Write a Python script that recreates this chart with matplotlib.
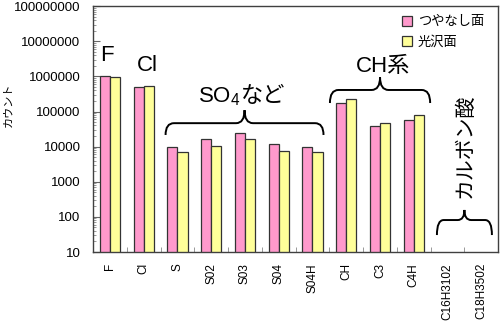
"""Log-scale count comparison of matte vs. glossy surfaces by fragment."""
import numpy as np
import matplotlib
matplotlib.use('Agg')
import matplotlib.pyplot as plt
from matplotlib.path import Path
from matplotlib.patches import PathPatch
from matplotlib.ticker import FixedLocator, LogLocator, NullFormatter
import matplotlib.transforms as mtransforms

categories = ['F', 'Cl', 'S', 'S02', 'S03', 'S04', 'S04H',
              'CH', 'C3', 'C4H', 'C16H3102', 'C18H3502']
matte = [1.0e6, 4.9e5, 9.5e3, 1.6e4, 2.5e4, 1.18e4, 9.5e3,
         1.8e5, 3.9e4, 5.6e4, np.nan, np.nan]
glossy = [9.5e5, 5.3e5, 7.1e3, 1.05e4, 1.65e4, 7.3e3, 6.9e3,
          2.2e5, 4.7e4, 7.8e4, np.nan, np.nan]
series_names = ['つやなし面', '光沢面']
ytick_vals = [10, 100, 1000, 10000, 100000, 1000000, 10000000, 100000000]

JP = ['Noto Sans CJK JP', 'Liberation Sans', 'DejaVu Sans']
LAT = ['Liberation Sans', 'Noto Sans CJK JP', 'DejaVu Sans']
plt.rcParams.update({'font.family': LAT,
                     'mathtext.fontset': 'custom',
                     'mathtext.rm': 'Liberation Sans',
                     'mathtext.it': 'Liberation Sans'})

fig = plt.figure(figsize=(5.0, 3.23), dpi=100)
ax = fig.add_axes([0.186, 0.2198, 0.81, 0.7612])

x = np.arange(len(categories))
w = 0.3
ax.bar(x - w / 2, matte, w, color='#FF99CC', edgecolor='#333333',
       linewidth=0.9, label=series_names[0], zorder=2)
ax.bar(x + w / 2, glossy, w, color='#FFFF99', edgecolor='#333333',
       linewidth=0.9, label=series_names[1], zorder=2)

ax.set_yscale('log')
ax.set_ylim(10, 1e8)
ax.set_xlim(-0.5, len(categories) - 0.5)
ax.yaxis.set_major_locator(FixedLocator(ytick_vals))
ax.set_yticklabels([str(v) for v in ytick_vals])
ax.yaxis.set_minor_locator(LogLocator(base=10, subs=np.arange(2, 10)))
ax.yaxis.set_minor_formatter(NullFormatter())
ax.tick_params(axis='y', which='major', direction='in', length=5,
               color='#666666', labelsize=9.5, pad=9)
ax.tick_params(axis='y', which='minor', direction='in', length=2.5,
               color='#888888')

ax.set_xticks(x)
ax.set_xticklabels(categories, rotation=90, fontsize=8.5)
ax.set_xticks(np.arange(-0.5, len(categories)), minor=True)
ax.tick_params(axis='x', which='major', length=0, pad=8)
ax.tick_params(axis='x', which='minor', direction='in', length=3.5,
               color='#888888')
for s in ax.spines.values():
    s.set_color('#404040')
    s.set_linewidth(1.0)

ax.set_ylabel('カウント', family=JP, fontsize=8)
ax.yaxis.set_label_coords(-0.197, 0.6)

leg = ax.legend(loc='upper right', frameon=False, prop={'family': JP, 'size': 9.5},
                handlelength=0.8, handleheight=0.8, handletextpad=0.4,
                labelspacing=0.55, borderaxespad=0.3,
                bbox_to_anchor=(0.988, 1.0))

# group annotations: x in category units, y in axes fraction
trans = mtransforms.blended_transform_factory(ax.transData, ax.transAxes)


def brace(x0, x1, y0, y1, y2, r=0.25):
    xm = (x0 + x1) / 2
    verts = [(x0, y0), (x0, y1), (x0 + r, y1), (xm - r, y1), (xm, y1),
             (xm, y2), (xm, y1), (xm + r, y1), (x1 - r, y1), (x1, y1),
             (x1, y0)]
    codes = [Path.MOVETO, Path.CURVE3, Path.CURVE3, Path.LINETO,
             Path.CURVE3, Path.CURVE3, Path.CURVE3, Path.CURVE3,
             Path.LINETO, Path.CURVE3, Path.CURVE3]
    ax.add_patch(PathPatch(Path(verts, codes), transform=trans,
                           fill=False, lw=1.4, color='black', zorder=3,
                           clip_on=False))


brace(1.65, 6.33, 0.476, 0.524, 0.577)
brace(6.52, 9.49, 0.606, 0.659, 0.711)
brace(9.69, 11.32, 0.069, 0.13, 0.171, r=0.2)

ax.text(-0.09, 0.80, 'F', ha='center', va='center', fontsize=16,
        transform=trans)
ax.text(1.1, 0.758, 'Cl', ha='center', va='center', fontsize=16,
        transform=trans)
# "SO4" (mathtext subscript) and the kana are set as two pieces meeting at x
ax.text(3.86, 0.61, 'SO$_4$', ha='right', va='baseline', fontsize=16,
        transform=trans)
ax.text(3.88, 0.61, 'など', ha='left', va='baseline', fontsize=16,
        family=JP, transform=trans)
ax.text(8.1, 0.732, 'CH系', ha='center', va='baseline', fontsize=16,
        transform=trans)
ax.text(10.52, 0.43, 'カルボン酸', ha='center', va='center',
        rotation=90, fontsize=15, family=JP, transform=trans)

fig.savefig('out.png', dpi=100)
